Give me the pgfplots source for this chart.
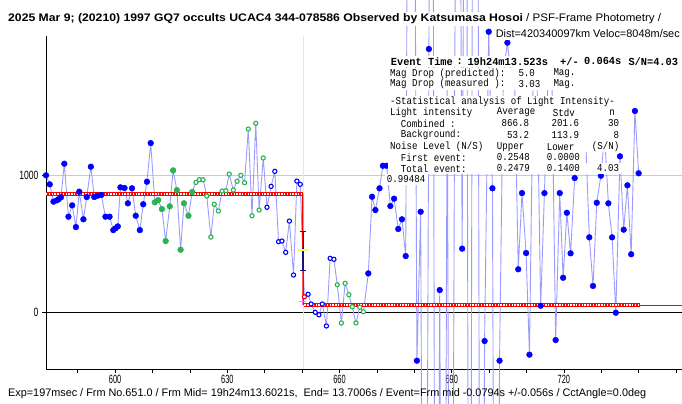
\documentclass[border=0pt]{standalone}
\usepackage{fontspec}
\setmainfont{Liberation Sans}
\setmonofont{Liberation Mono}
\usepackage{graphicx}
\usepackage{pgfplots}
\pgfplotsset{compat=1.18}
\usepackage{pgfplotstable}
\definecolor{lineblue}{RGB}{155,155,255}
\definecolor{ptblue}{RGB}{0,0,255}
\definecolor{ptgreen}{RGB}{40,180,80}
\definecolor{evyellow}{RGB}{255,250,70}
\definecolor{cyanline}{RGB}{110,240,255}
\definecolor{navy}{RGB}{20,20,120}
\definecolor{pinkx}{RGB}{255,110,255}

\pgfplotstableread{
f v c
581.5 1003 b
582.5 937 b
583.5 810 b
584.4 820 b
584.9 829 b
585.5 842 b
586.4 1088 b
587.5 700 b
588.5 783 b
589.5 624 b
590.4 883 b
591.5 681 b
592.4 844 b
593.5 1066 b
594.4 844 b
595.3 854 b
596.3 859 b
597.4 700 b
598.5 700 b
599.5 602 b
600.1 615 b
600.7 629 b
601.4 915 b
602.5 910 b
603.4 798 b
604.5 908 b
605.5 707 b
606.6 602 b
607.5 791 b
608.5 956 b
609.5 1239 b
610.6 805 g
611.5 822 g
612.5 756 g
613.5 522 g
614.6 776 g
615.5 1039 g
616.5 895 g
617.5 458 g
618.4 798 g
619.6 707 g
620.6 881 g
621.6 951 go
622.5 971 go
623.5 971 go
624.5 851 go
625.6 551 go
626.5 791 go
627.6 742 go
628.6 888 go
629.6 890 go
630.5 1012 go
631.6 895 go
632.6 959 go
633.6 1003 go
634.6 949 go
635.6 1342 go
636.6 707 go
637.6 1384 go
638.5 749 go
639.6 1130 go
640.6 769 bo
641.7 922 bo
642.7 1032 bo
643.7 517 bo
644.6 522 bo
645.6 439 bo
646.6 668 bo
647.7 273 bo
648.6 961 bo
649.5 937 bo
650.6 114 r
651.6 132 bo
652.4 61 bo
653.5 0 bo
654.5 -18 bo
655.4 61 bo
656.5 -100 bo
657.5 395 bo
658.5 388 bo
659.4 202 go
660.5 -78 go
661.5 212 go
662.5 129 go
663.4 41 go
664.4 -78 go
665.4 37 go
666.4 4 go
667.7 285 b
668.7 846 b
669.6 749 b
670.7 908 b
671.6 1073 b
672.6 1073 b
673.6 778 b
674.6 832 b
675.7 610 b
676.7 681 b
677.7 412 b
678.7 6000 x
679.7 6000 x
680.7 -354 b
681.7 736 b
682.8 -6000 x
683.9 1928 b
684.8 6000 x
685.8 -6000 x
686.8 163 b
687.8 -6000 x
688.8 1750 x
689.8 -6000 x
690.8 1750 x
691.8 6000 x
692.8 466 b
693.8 6000 x
694.8 -6000 x
695.8 6000 x
696.8 6000 x
697.8 -6000 x
698.8 -210 b
699.9 2054 b
700.9 908 b
701.8 -6000 x
702.8 -354 b
703.8 1750 x
704.9 1974 b
705.8 1750 x
706.8 1750 x
707.8 315 b
708.8 873 b
709.9 434 b
710.8 -310 b
711.8 1750 x
712.8 1750 x
713.8 48 b
714.8 873 b
715.8 1750 x
716.8 1750 x
717.8 -203 b
718.9 873 b
719.8 253 b
720.8 729 b
721.8 432 b
722.9 983 b
723.8 1300 x
724.8 1300 x
725.8 1300 x
726.8 549 b
727.8 193 b
728.8 802 b
729.9 1000 b
730.9 1300 x
731.9 798 b
732.9 549 b
733.9 -3 b
735.0 1142 b
736.0 605 b
737.0 930 b
738.0 425 b
739.0 1474 b
740.0 1018 b
}\lc

\newcommand\rowbg[3]{\fill[white] (#1,{403-#3-5.7}) rectangle (#2,{403-#3+5.7});}
\newcommand\tl[3]{\node[anchor=west,inner sep=0pt,font=\ttfamily\fontsize{10.6}{12}\selectfont] at (#1,{403-#2}) {\scalebox{0.865}[1]{#3}};}
\newcommand\tr[3]{\node[anchor=east,inner sep=0pt,font=\ttfamily\fontsize{10.6}{12}\selectfont] at (#1,{403-#2}) {\scalebox{0.865}[1]{#3}};}
\newcommand\tb[3]{\node[anchor=west,inner sep=0pt,font=\ttfamily\bfseries\fontsize{10.8}{12}\selectfont] at (#1,{403-#2}) {\scalebox{0.96}[1]{#3}};}

\begin{document}
\begin{tikzpicture}[x=1bp,y=1bp]
\useasboundingbox (0,0) rectangle (682,403);
\clip (0,0) rectangle (682,403);
\begin{axis}[
  at={(46bp,34bp)}, anchor=south west, scale only axis,
  width=636bp, height=333bp,
  xmin=581.5, xmax=751.6, ymin=-415, ymax=2023,
  axis lines*=left, axis line style={black, line width=0.8bp},
  clip=false,
  xtick={600,630,660,690,720},
  xticklabels={\scalebox{0.62}[1]{600},\scalebox{0.62}[1]{630},\scalebox{0.62}[1]{660},\scalebox{0.62}[1]{690},\scalebox{0.62}[1]{720}},
  minor xtick={590,610,620,640,650,670,680,700,710,730,740,750},
  ytick={0,1000},
  yticklabels={\scalebox{0.72}[1]{0},\scalebox{0.72}[1]{1000}},
  tick align=outside, major tick length=4bp, minor tick length=4bp,
  tick style={black, line width=0.6bp},
  tick label style={font=\fontsize{12}{13}\selectfont},
  xticklabel style={yshift=1bp},
]
\addplot[cyanline, line width=1.3bp] coordinates {(581.5,1000) (751.6,1000)};
\addplot[black, line width=0.8bp] coordinates {(581.5,0) (751.6,0)};
\addplot[evyellow, line width=1.1bp] coordinates {(650.4,-415) (650.4,2023)};
\addplot[lineblue, line width=0.9bp, mark=none] table[x=f,y=v]{\lc};
% red fitted light curve
\addplot[red, line width=3.2bp] coordinates {(581.5,866.8) (650.1,866.8)};
\addplot[white, line width=1.3bp, dash pattern=on 1.4bp off 1.4bp] coordinates {(581.5,866.8) (650.1,866.8)};
\addplot[red, line width=1.5bp] coordinates {(650.1,866.8) (650.3,53.2)};
\addplot[red, line width=3.2bp] coordinates {(650.6,53.2) (740.4,53.2)};
\addplot[white, line width=1.3bp, dash pattern=on 1.4bp off 1.4bp] coordinates {(650.6,53.2) (740.4,53.2)};
\addplot[red, line width=0.9bp] coordinates {(740.4,53.2) (751.6,53.2)};
% error bar
\addplot[navy, line width=0.9bp] coordinates {(650.25,595) (650.25,307)};
\addplot[navy, line width=1.8bp] coordinates {(650.25,468) (650.25,307)};
\addplot[navy, line width=0.9bp] coordinates {(649.5,595) (651.0,595)};
\addplot[navy, line width=0.9bp] coordinates {(649.5,307) (651.0,307)};
\addplot[evyellow, line width=1.1bp] coordinates {(648.8,456) (651.7,456)};
\addplot[pinkx, only marks, mark=+, mark size=3.5bp, line width=1bp] coordinates {(650.0,78)};
% data points
\addplot[scatter, only marks, scatter src=explicit symbolic, mark size=2.9bp,
  scatter/classes={
    b={mark=*, draw=ptblue, fill=ptblue},
    g={mark=*, draw=ptgreen, fill=ptgreen},
    go={mark=*, mark size=2.1bp, draw=ptgreen, fill=white, line width=1.1bp},
    bo={mark=*, mark size=2.1bp, draw=ptblue, fill=white, line width=1.1bp},
    r={mark=*, mark size=2.1bp, draw=red, fill=white, line width=1.1bp},
    x={mark=*, draw=none, fill=none}}]
  table[x=f,y=v,meta=c]{\lc};
\end{axis}
% statistics box
\rowbg{388}{680}{61.2}
\rowbg{388}{576}{73.3}
\rowbg{388}{576}{84.0}
\rowbg{388}{617}{101.7}
\rowbg{388}{617}{112.3}
\rowbg{388}{621}{123.3}
\rowbg{388}{621}{135.0}
\rowbg{388}{621}{146.7}
\rowbg{388}{581}{157.3}
\rowbg{388}{621}{168.3}
\rowbg{385}{428}{179.3}
\tb{390.7}{61.2}{Event Time}
\tb{456.5}{61.2}{:}
\tb{467.3}{61.2}{19h24m13.523s}
\tb{560}{61.2}{+/-}
\tb{584}{61.2}{0.064s}
\tb{628.3}{61.2}{S/N=4.03}
\tl{390}{73.3}{Mag Drop (predicted):}
\tl{518.3}{73.3}{5.0}
\tl{553.3}{73.3}{Mag.}
\tl{390}{84.0}{Mag Drop (measured ):}
\tl{518.3}{84.0}{3.03}
\tl{553.3}{84.0}{Mag.}
\tl{390}{101.7}{-Statistical analysis of Light Intensity-}
\tl{390}{112.3}{Light intensity}
\tl{496.7}{112.3}{Average}
\tl{552.7}{112.3}{Stdv}
\tr{615}{112.3}{n}
\tl{400.7}{123.3}{Combined :}
\tr{529.3}{123.3}{866.8}
\tr{579.3}{123.3}{201.6}
\tr{619.3}{123.3}{30}
\tl{400.7}{135.0}{Background:}
\tr{529.3}{135.0}{53.2}
\tr{579.3}{135.0}{113.9}
\tr{619.3}{135.0}{8}
\tl{390}{146.7}{Noise Level (N/S)}
\tl{496.7}{146.7}{Upper}
\tl{546.7}{146.7}{Lower}
\tl{591.7}{146.7}{(S/N)}
\tl{400.7}{157.3}{First event:}
\tl{496.7}{157.3}{0.2548}
\tl{546.7}{157.3}{0.0000}
\tl{400.7}{168.3}{Total event:}
\tl{496.7}{168.3}{0.2479}
\tl{546.7}{168.3}{0.1400}
\tr{619.3}{168.3}{4.03}
\tl{386.7}{179.3}{0.99484}
% title
\fill[white] (5,{403-26}) rectangle (664,{403-12});
\node[anchor=west,inner sep=0pt] at (8,{403-19}) {\resizebox{515bp}{\height}{\bfseries\fontsize{11}{12}\selectfont 2025 Mar 9; (20210) 1997 GQ7 occults UCAC4 344-078586 Observed by Katsumasa Hosoi}};
\node[anchor=west,inner sep=0pt] at (526,{403-19}) {\resizebox{135bp}{\height}{\fontsize{11}{12}\selectfont / PSF-Frame Photometry /}};
\fill[white] (494,{403-40}) rectangle (681,{403-27});
\node[anchor=east,inner sep=0pt] at (680,{403-33.5}) {\resizebox{184bp}{\height}{\fontsize{11}{12}\selectfont Dist=420340097km Veloc=8048m/sec}};
% bottom line
\node[anchor=west,inner sep=0pt] at (8,{403-394}) {\resizebox{638bp}{\height}{\fontsize{11}{12}\selectfont Exp=197msec / Frm No.651.0 / Frm Mid= 19h24m13.6021s,\ \ End= 13.7006s / Event=Frm mid -0.0794s +/-0.056s / CctAngle=0.0deg}};
\end{tikzpicture}
\end{document}
